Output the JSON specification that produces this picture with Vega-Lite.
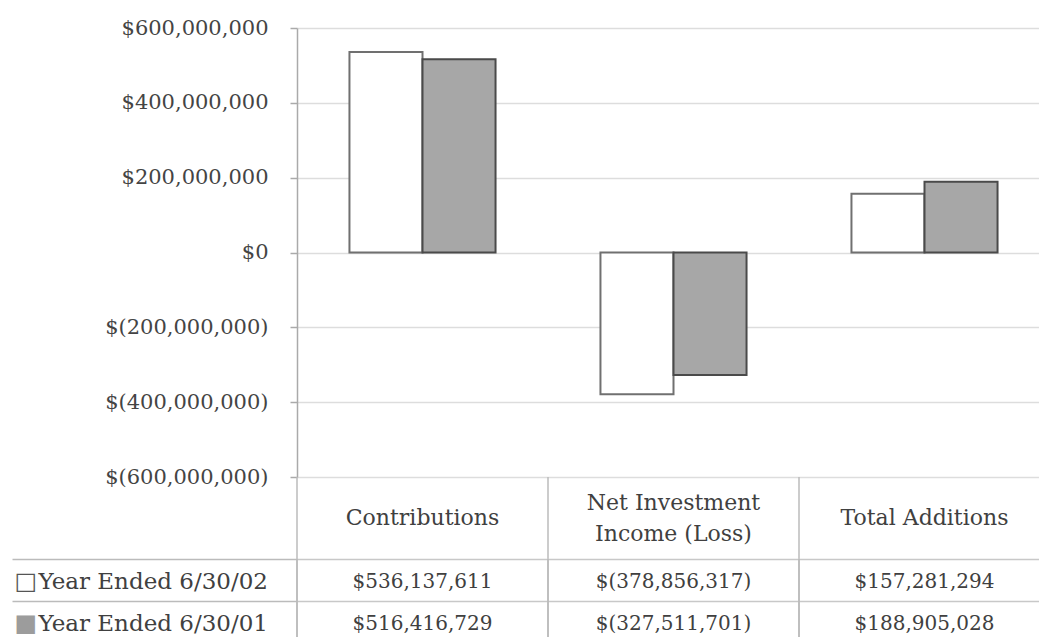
{
  "$schema": "https://vega.github.io/schema/vega-lite/v6.json",
  "padding": {"left": 0, "top": 17, "right": 0, "bottom": 0},
  "background": "white",
  "spacing": 0,
  "bounds": "flush",
  "config": {"view": {"stroke": null}, "font": "DejaVu Serif"},
  "datasets": {
    "d": [
      {"category": "Contributions", "year": "Year Ended 6/30/02", "value": 536137611, "label": "$536,137,611"},
      {"category": "Contributions", "year": "Year Ended 6/30/01", "value": 516416729, "label": "$516,416,729"},
      {"category": "Net Investment\nIncome (Loss)", "year": "Year Ended 6/30/02", "value": -378856317, "label": "$(378,856,317)"},
      {"category": "Net Investment\nIncome (Loss)", "year": "Year Ended 6/30/01", "value": -327511701, "label": "$(327,511,701)"},
      {"category": "Total Additions", "year": "Year Ended 6/30/02", "value": 157281294, "label": "$157,281,294"},
      {"category": "Total Additions", "year": "Year Ended 6/30/01", "value": 188905028, "label": "$188,905,028"}
    ]
  },
  "vconcat": [
    {
      "width": 742,
      "height": 449,
      "data": {"name": "d"},
      "mark": {"type": "bar", "strokeWidth": 2},
      "encoding": {
        "x": {"field": "category", "type": "nominal", "sort": null,
              "scale": {"range": [0, 753], "paddingInner": 0.418, "paddingOuter": 0.209}, "axis": null},
        "xOffset": {"field": "year", "type": "nominal", "sort": null, "scale": {"paddingInner": 0, "paddingOuter": 0}},
        "y": {"field": "value", "type": "quantitative",
              "scale": {"domain": [-600000000, 600000000], "nice": false},
              "axis": {
                "values": [-600000000, -400000000, -200000000, 0, 200000000, 400000000, 600000000],
                "labelExpr": "datum.value < 0 ? '$(' + format(-datum.value, ',') + ')' : '$' + format(datum.value, ',')",
                "title": null, "labelFont": "DejaVu Serif", "labelFontSize": 21, "labelColor": "#444444",
                "tickSize": 7, "tickColor": "#aaaaaa", "tickWidth": 1.5, "domainColor": "#aaaaaa", "domainWidth": 1.5,
                "gridColor": "#dddddd", "gridWidth": 1.5, "labelPadding": 22,
                "minExtent": 297, "maxExtent": 297
              }},
        "fill": {"field": "year", "type": "nominal", "sort": null, "scale": {"range": ["#ffffff", "#a7a7a7"]}, "legend": null},
        "stroke": {"field": "year", "type": "nominal", "sort": null, "scale": {"range": ["#707070", "#4a4a4a"]}, "legend": null}
      }
    },
    {
      "width": 742,
      "height": 82,
      "data": {"name": "d"},
      "transform": [{"filter": "datum.year == 'Year Ended 6/30/02'"}],
      "layer": [
        {
          "mark": {"type": "rule", "color": "#bbbbbb", "strokeWidth": 1.5},
          "encoding": {
            "x": {"field": "category", "type": "nominal", "sort": null, "bandPosition": 0,
                  "scale": {"type": "band", "range": [0, 753], "paddingInner": 0, "paddingOuter": 0}, "axis": null}
          }
        },
        {
          "transform": [{"filter": "indexof(datum.category, 'Net') < 0"}],
          "mark": {"type": "text", "fontSize": 22, "color": "#404040", "lineBreak": "\n", "lineHeight": 31, "font": "DejaVu Serif"},
          "encoding": {
            "x": {"field": "category", "type": "nominal", "sort": null,
                  "scale": {"type": "band", "range": [0, 753], "paddingInner": 0, "paddingOuter": 0}, "axis": null},
            "y": {"datum": "h", "type": "nominal",
                  "axis": {"labels": false, "ticks": false, "domain": false, "grid": false, "title": null, "minExtent": 297, "maxExtent": 297}},
            "text": {"field": "category"}
          }
        },
        {
          "transform": [{"filter": "indexof(datum.category, 'Net') >= 0"}],
          "mark": {"type": "text", "fontSize": 22, "color": "#404040", "lineBreak": "\n", "lineHeight": 31, "dy": -15, "font": "DejaVu Serif"},
          "encoding": {
            "x": {"field": "category", "type": "nominal", "sort": null,
                  "scale": {"type": "band", "range": [0, 753], "paddingInner": 0, "paddingOuter": 0}, "axis": null},
            "y": {"datum": "h", "type": "nominal"},
            "text": {"field": "category"}
          }
        }
      ]
    },
    {
      "width": 742,
      "height": 78,
      "data": {"name": "d"},
      "layer": [
        {
          "mark": {"type": "rule", "color": "#bbbbbb", "strokeWidth": 1.5},
          "encoding": {
            "x": {"field": "category", "type": "nominal", "sort": null, "bandPosition": 0,
                  "scale": {"type": "band", "range": [0, 753], "paddingInner": 0, "paddingOuter": 0}, "axis": null}
          }
        },
        {
          "mark": {"type": "text", "fontSize": 20, "color": "#404040", "font": "DejaVu Serif", "dy": 2},
          "encoding": {
            "x": {"field": "category", "type": "nominal", "sort": null,
                  "scale": {"type": "band", "range": [0, 753], "paddingInner": 0, "paddingOuter": 0}, "axis": null},
            "y": {"field": "year", "type": "nominal", "sort": null,
                  "scale": {"type": "band", "range": [0, 84], "paddingInner": 0, "paddingOuter": 0},
                  "axis": {
                    "orient": "left", "bandPosition": 0, "labelOffset": 2,
                    "grid": true, "gridColor": "#c8c8c8", "gridWidth": 1.5,
                    "ticks": true, "tickSize": 285, "tickColor": "#bbbbbb", "tickWidth": 1.5,
                    "domain": false, "labelAlign": "left", "labelPadding": -26, "labelBaseline": "middle",
                    "labelFontSize": 23, "labelColor": "#404040", "labelFont": "DejaVu Serif", "labelLimit": 400,
                    "title": null, "minExtent": 297, "maxExtent": 297
                  }},
            "text": {"field": "label"}
          }
        },
        {
          "mark": {"type": "text", "opacity": 0},
          "encoding": {
            "y": {"field": "year", "type": "nominal", "sort": null,
                  "scale": {"type": "band", "range": [0, 84], "paddingInner": 0, "paddingOuter": 0},
                  "axis": {
                    "orient": "left",
                    "labelExpr": "datum.value == 'Year Ended 6/30/02' ? '□' : '■'",
                    "labelColor": {"condition": {"test": "datum.value == 'Year Ended 6/30/01'", "value": "#9c9c9c"}, "value": "#555555"},
                    "ticks": false, "domain": false, "grid": false, "labelOffset": 2,
                    "labelAlign": "left", "labelPadding": 283, "labelBaseline": "middle",
                    "labelFontSize": 24, "labelFont": "DejaVu Sans",
                    "title": null, "minExtent": 297, "maxExtent": 297
                  }},
            "text": {"value": ""}
          }
        }
      ],
      "resolve": {"axis": {"y": "independent"}}
    }
  ]
}
